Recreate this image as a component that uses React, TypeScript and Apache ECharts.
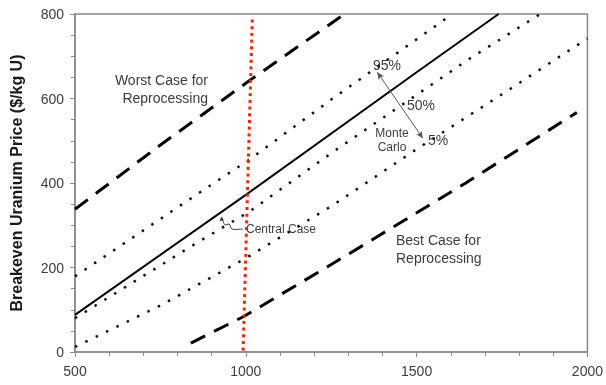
import React, { useEffect, useRef } from "react";
import * as echarts from "echarts";

// Data (x: value on horizontal axis, y: $/kg U)
const worstCase: [number, number][] = [[500, 338], [750, 490], [1010, 642], [1289, 800]];
const centralCase: [number, number][] = [[500, 88], [1000, 372], [1500, 662], [1740, 800]];
const mc95: [number, number][] = [[500, 179], [864, 377], [1010, 455], [1256, 601], [1605, 800]];
const mc50: [number, number][] = [[500, 80], [864, 262], [1010, 332], [1256, 474], [1649, 691], [1862, 800]];
const mc5: [number, number][] = [[500, 12], [750, 110], [1000, 222], [1250, 345], [1500, 480], [1750, 610], [2000, 742]];
const bestCase: [number, number][] = [[839, 21], [994, 84], [1250, 207], [1644, 400], [1969, 567]];
const redLine: [number, number][] = [[1019, 787], [992, 0]];
const mcArrow: [number, number][] = [[1385, 662], [1518, 506]];

const xTicks = [500, 1000, 1500, 2000];
const yTicks = [0, 200, 400, 600, 800];

const FONT = "'Liberation Sans', Arial, sans-serif";
const TXT = "#3c3c3c";
const AX = "#8a8a8a";

export default function App() {
  const ref = useRef<HTMLDivElement>(null);
  useEffect(() => {
    if (!ref.current) return;
    const chart = echarts.init(ref.current, null, { renderer: "svg" });
    const dotted = { color: "#111", width: 2.5, type: [2.5, 9] as any };
    const dashed = { color: "#000", width: 3, type: [16, 10] as any };
    const line = (name: string, data: [number, number][], lineStyle: any, extra: any = {}) => ({
      type: "line",
      name,
      data,
      showSymbol: false,
      symbol: "none",
      clip: true,
      lineStyle,
      silent: true,
      ...extra,
    });
    const text = (t: string, x: number, y: number, size: number, align: string = "left") => ({
      type: "text",
      x,
      y,
      silent: true,
      style: { text: t, fill: TXT, font: `${size}px ${FONT}`, textAlign: align, textVerticalAlign: "middle" },
    });
    chart.setOption({
      animation: false,
      textStyle: { fontFamily: FONT },
      grid: { left: 75, right: 15, top: 14, bottom: 33, show: true, borderColor: AX, borderWidth: 1.5 },
      xAxis: {
        type: "value",
        min: xTicks[0],
        max: xTicks[xTicks.length - 1],
        interval: 500,
        axisLine: { show: true, lineStyle: { color: AX, width: 1.5 } },
        axisTick: { show: true, length: 5, lineStyle: { color: AX } },
        minorTick: { show: true, splitNumber: 5, length: 4, lineStyle: { color: AX } },
        splitLine: { show: false },
        axisLabel: { fontSize: 14, color: TXT, margin: 12, fontFamily: FONT, formatter: (v: number) => String(v) },
      },
      yAxis: {
        type: "value",
        min: yTicks[0],
        max: yTicks[yTicks.length - 1],
        interval: 200,
        name: "Breakeven Uranium Price ($/kg U)",
        nameLocation: "middle",
        nameGap: 51,
        nameTextStyle: { fontSize: 16, fontWeight: "bold", color: "#1a1a1a", fontFamily: FONT },
        axisLine: { show: true, lineStyle: { color: AX, width: 1.5 } },
        axisTick: { show: true, length: 5, lineStyle: { color: AX } },
        minorTick: { show: true, splitNumber: 4, length: 4, lineStyle: { color: AX } },
        splitLine: { show: false },
        axisLabel: { fontSize: 14, color: TXT, margin: 11, fontFamily: FONT, formatter: (v: number) => String(v) },
      },
      series: [
        line("Worst Case", worstCase, dashed),
        line("Best Case", bestCase, dashed),
        line("Monte Carlo 95%", mc95, dotted),
        line("Monte Carlo 50%", mc50, dotted),
        line("Monte Carlo 5%", mc5, dotted),
        line("Central Case", centralCase, { color: "#000", width: 2 }, {
          markLine: {
            silent: true,
            symbol: ["arrow", "arrow"],
            symbolSize: [5, 7],
            label: { show: false },
            lineStyle: { color: "#555", width: 1, type: "solid" },
            data: [[{ coord: mcArrow[0] }, { coord: mcArrow[1] }]],
          },
        }),
        line("Reference", redLine, { color: "#ff2200", width: 3, type: [3, 3.7] as any }),
      ],
      graphic: [
        text("Worst Case for", 208, 80, 14, "right"),
        text("Reprocessing", 208, 98, 14, "right"),
        text("Best Case for", 396, 240, 14),
        text("Reprocessing", 396, 258, 14),
        text("Central Case", 246, 229, 12),
        text("95%", 373, 65, 14),
        text("50%", 407, 105, 14),
        text("5%", 428, 140, 14),
        text("Monte", 392, 133, 12, "center"),
        text("Carlo", 392, 147, 12, "center"),
        {
          type: "polyline",
          silent: true,
          shape: { points: [[222, 218], [225, 225], [229, 224], [232, 229], [243, 229]], smooth: 0.3 },
          style: { stroke: "#333", lineWidth: 1, fill: null },
        },
        {
          type: "polygon",
          silent: true,
          shape: { points: [[221.5, 216.5], [219.5, 221], [223.8, 220.2]] },
          style: { fill: "#333" },
        },
      ],
    });
    return () => chart.dispose();
  }, []);
  return <div ref={ref} style={{ position: "fixed", left: 0, top: 0, width: 606, height: 385 }} />;
}
